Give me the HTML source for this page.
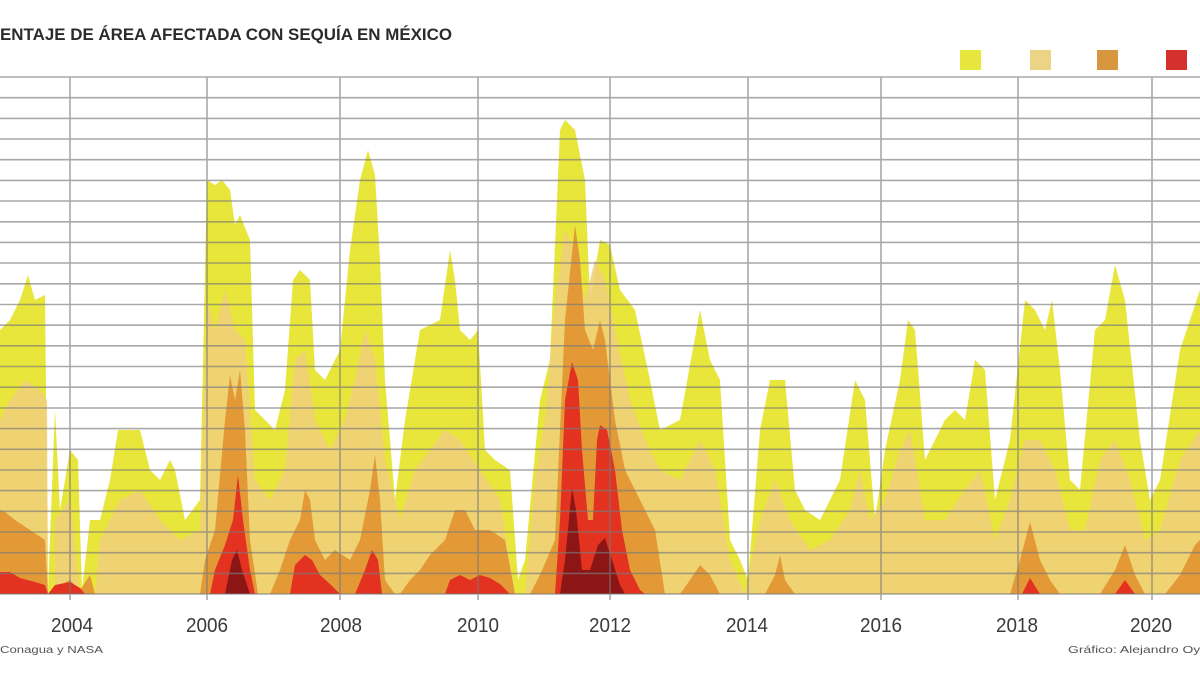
<!DOCTYPE html>
<html><head><meta charset="utf-8"><style>html,body{margin:0;padding:0;background:#fff}svg{display:block}</style></head>
<body>
<svg width="1200" height="676" viewBox="0 0 1200 676" xmlns="http://www.w3.org/2000/svg" font-family="'Liberation Sans Narrow','Liberation Sans',sans-serif">
<rect width="1200" height="676" fill="#fff"/>
<text x="0" y="40" font-size="17" font-weight="bold" fill="#2b2b2b" textLength="452" lengthAdjust="spacingAndGlyphs">ENTAJE DE ÁREA AFECTADA CON SEQUÍA EN MÉXICO</text>
<rect x="960" y="50" width="21" height="20" fill="#e6e63c"/>
<rect x="1030" y="50" width="21" height="20" fill="#ecd385"/>
<rect x="1097" y="50" width="21" height="20" fill="#d8963e"/>
<rect x="1166" y="50" width="21" height="20" fill="#d6302c"/>
<polygon fill="#e8e63a" points="0,594 0,330 10,320 20,300 28,275 35,300 45,295 48,590 55,410 60,510 70,450 78,460 82,590 90,520 100,520 110,480 118,430 140,430 150,470 160,480 170,460 175,470 185,520 200,500 207,180 215,185 222,180 230,190 235,225 240,215 250,240 255,410 265,420 275,430 285,390 293,280 300,270 310,280 315,370 325,380 330,370 340,350 350,250 360,180 368,150 375,175 380,260 385,380 395,500 405,420 420,330 440,320 450,250 455,280 460,330 470,340 478,330 485,450 495,460 510,470 518,580 525,560 540,400 550,360 560,130 565,120 575,130 585,180 590,300 600,240 610,245 620,290 635,310 650,380 660,430 680,420 700,310 710,360 720,380 730,540 740,560 748,580 760,430 770,380 785,380 795,490 805,510 820,520 840,480 855,380 865,400 875,520 885,450 900,380 908,320 915,330 925,460 935,440 945,420 955,410 965,420 975,360 985,370 995,500 1010,440 1025,300 1035,310 1045,330 1052,300 1060,370 1070,480 1080,490 1095,330 1105,320 1115,265 1125,300 1140,440 1150,500 1160,480 1180,350 1200,290 1200,594"/>
<polygon fill="#f0cf7e" opacity="0.85" points="0,594 0,420 10,400 25,380 40,390 47,400 48,594 55,594 55,520 70,500 80,594 95,594 100,540 120,500 140,490 160,520 180,540 200,530 207,300 215,330 225,290 235,330 245,340 255,480 270,500 285,470 295,360 305,350 315,420 330,450 345,420 355,380 365,330 375,360 385,460 400,520 415,470 430,450 445,430 460,440 480,470 500,500 515,594 525,594 535,480 545,420 555,300 565,230 575,250 585,300 595,260 605,280 615,330 630,400 645,440 660,470 680,480 700,440 715,470 730,560 745,594 760,520 775,480 790,520 810,550 830,540 850,510 860,470 870,520 885,500 900,450 910,430 925,520 945,520 965,490 980,470 995,540 1010,500 1025,440 1040,440 1055,470 1070,530 1085,530 1100,460 1115,440 1130,480 1145,540 1160,530 1180,460 1200,430 1200,594"/>
<polygon fill="#e39a36" points="0,594 0,510 5,512 15,520 30,530 45,540 48,594 60,585 70,580 80,590 90,575 95,594 200,594 205,560 215,530 225,420 230,375 235,400 240,370 245,430 250,540 258,594 270,594 280,570 290,540 300,520 305,490 310,500 315,540 325,560 335,550 350,560 360,540 370,490 375,455 380,500 385,580 395,594 400,594 410,580 420,570 430,555 445,540 455,510 465,510 475,530 490,530 505,540 515,594 530,594 540,575 555,540 565,320 575,225 580,260 585,330 593,350 600,320 605,340 615,420 625,470 640,500 655,530 665,594 680,594 690,580 700,565 710,575 720,594 765,594 775,575 780,555 785,580 795,594 1010,594 1020,560 1030,522 1040,560 1050,580 1060,594 1100,594 1115,570 1125,545 1135,575 1145,594 1165,594 1180,575 1195,545 1200,540 1200,594"/>
<polygon fill="#e3321f" points="0,594 0,572 10,572 20,578 35,582 45,585 48,594 55,585 70,582 80,588 85,594 210,594 215,570 225,545 233,520 238,475 243,520 250,570 255,594 290,594 295,565 305,555 312,560 320,575 330,584 340,594 355,594 365,570 372,550 378,560 382,594 445,594 450,580 460,575 470,580 480,575 490,578 500,584 510,594 555,594 560,520 565,400 572,362 578,380 582,450 588,520 593,520 597,440 600,425 607,430 615,470 622,530 630,570 640,590 645,594 1022,594 1030,578 1040,594 1115,594 1125,580 1135,594"/>
<polygon fill="#8c1616" points="225,594 232,560 237,550 242,570 250,594"/>
<polygon fill="#8c1616" points="560,594 565,560 572,488 576,510 582,570 590,570 598,545 605,538 612,560 620,585 625,594"/>
<g stroke="#7a7a7a" stroke-width="1.6" opacity="0.65">
<line x1="0" x2="1200" y1="77" y2="77"/><line x1="0" x2="1200" y1="97.7" y2="97.7"/><line x1="0" x2="1200" y1="118.4" y2="118.4"/><line x1="0" x2="1200" y1="139" y2="139"/><line x1="0" x2="1200" y1="159.7" y2="159.7"/><line x1="0" x2="1200" y1="180.4" y2="180.4"/><line x1="0" x2="1200" y1="201" y2="201"/><line x1="0" x2="1200" y1="221.8" y2="221.8"/><line x1="0" x2="1200" y1="242.4" y2="242.4"/><line x1="0" x2="1200" y1="263" y2="263"/><line x1="0" x2="1200" y1="283.8" y2="283.8"/><line x1="0" x2="1200" y1="304.5" y2="304.5"/><line x1="0" x2="1200" y1="325.2" y2="325.2"/><line x1="0" x2="1200" y1="345.8" y2="345.8"/><line x1="0" x2="1200" y1="366.5" y2="366.5"/><line x1="0" x2="1200" y1="387.2" y2="387.2"/><line x1="0" x2="1200" y1="408" y2="408"/><line x1="0" x2="1200" y1="428.6" y2="428.6"/><line x1="0" x2="1200" y1="449.3" y2="449.3"/><line x1="0" x2="1200" y1="470" y2="470"/><line x1="0" x2="1200" y1="490.6" y2="490.6"/><line x1="0" x2="1200" y1="511.3" y2="511.3"/><line x1="0" x2="1200" y1="532" y2="532"/><line x1="0" x2="1200" y1="552.7" y2="552.7"/><line x1="0" x2="1200" y1="573.4" y2="573.4"/><line x1="0" x2="1200" y1="594" y2="594"/>
<line x1="70" x2="70" y1="77" y2="600"/><line x1="207" x2="207" y1="77" y2="600"/><line x1="340" x2="340" y1="77" y2="600"/><line x1="478" x2="478" y1="77" y2="600"/><line x1="610" x2="610" y1="77" y2="600"/><line x1="748" x2="748" y1="77" y2="600"/><line x1="881" x2="881" y1="77" y2="600"/><line x1="1018" x2="1018" y1="77" y2="600"/><line x1="1152" x2="1152" y1="77" y2="600"/>
</g>
<g font-size="20" fill="#3a3a3a" text-anchor="middle">
<text x="72" y="632" textLength="42" lengthAdjust="spacingAndGlyphs">2004</text><text x="207" y="632" textLength="42" lengthAdjust="spacingAndGlyphs">2006</text><text x="341" y="632" textLength="42" lengthAdjust="spacingAndGlyphs">2008</text><text x="478" y="632" textLength="42" lengthAdjust="spacingAndGlyphs">2010</text><text x="610" y="632" textLength="42" lengthAdjust="spacingAndGlyphs">2012</text><text x="747" y="632" textLength="42" lengthAdjust="spacingAndGlyphs">2014</text><text x="881" y="632" textLength="42" lengthAdjust="spacingAndGlyphs">2016</text><text x="1017" y="632" textLength="42" lengthAdjust="spacingAndGlyphs">2018</text><text x="1151" y="632" textLength="42" lengthAdjust="spacingAndGlyphs">2020</text>
</g>
<text x="0" y="653" font-size="10" fill="#555" textLength="103" lengthAdjust="spacingAndGlyphs">Conagua y NASA</text>
<text x="1068" y="653" font-size="10" fill="#555" textLength="140" lengthAdjust="spacingAndGlyphs">Gráfico: Alejandro Oyo</text>
</svg>
</body></html>
